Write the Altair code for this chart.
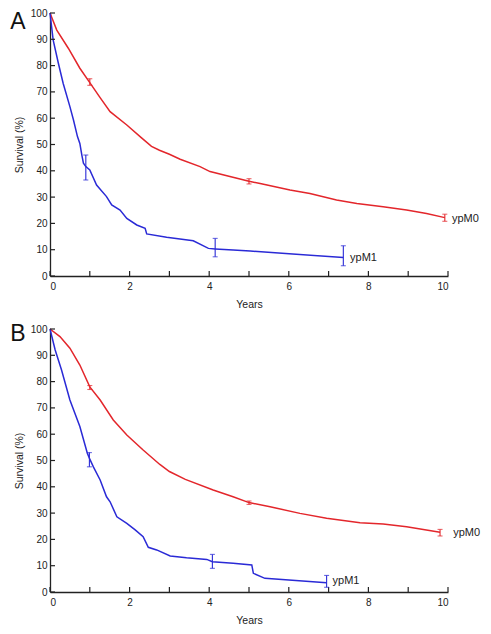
import altair as alt
import pandas as pd

FONT = "Liberation Sans"
RED = "#e3262b"
BLUE = "#2a2ad6"

# ---------------- data ----------------
# Panel A
a_m0_years = [0, 0.17, 0.46, 0.75, 1.0, 1.25, 1.51, 1.93, 2.3, 2.55, 2.75, 3.0, 3.27, 3.77, 4.02, 4.52, 5.0, 5.28, 6.03, 6.53, 7.2, 7.71, 8.37, 8.96, 9.46, 9.92]
a_m0_surv = [100, 93.5, 86.6, 79.0, 73.5, 68.0, 62.5, 57.4, 52.5, 49.3, 47.8, 46.3, 44.4, 41.6, 39.7, 37.8, 36.0, 35.2, 32.7, 31.4, 28.9, 27.6, 26.3, 25.1, 23.8, 22.2]
a_m1_years = [0, 0.08, 0.21, 0.33, 0.5, 0.59, 0.69, 0.75, 0.8, 0.84, 0.9, 1.0, 1.17, 1.42, 1.55, 1.76, 1.93, 2.18, 2.39, 2.43, 2.93, 3.6, 3.98, 4.15, 4.6, 5.03, 7.37]
a_m1_surv = [100, 89.7, 80.9, 73.3, 64.4, 59.3, 53.0, 50.4, 46.0, 42.9, 41.6, 40.3, 34.6, 30.2, 27.0, 25.1, 21.9, 19.4, 18.1, 16.0, 14.7, 13.4, 10.5, 10.3, 9.9, 9.5, 7.0]
a_err_series = ["ypM0", "ypM0", "ypM0", "ypM1", "ypM1", "ypM1"]
a_err_years = [1.0, 5.0, 9.92, 0.9, 4.15, 7.37]
a_err_low = [72.5, 35.0, 20.8, 36.5, 7.3, 3.9]
a_err_high = [75.0, 37.0, 23.5, 46.0, 14.3, 11.5]
a_lab_series = ["ypM0", "ypM1"]
a_lab_years = [10.1, 7.54]
a_lab_surv = [21.7, 6.8]

# Panel B
b_m0_years = [0, 0.25, 0.5, 0.75, 1.0, 1.26, 1.59, 1.93, 2.34, 2.76, 3.0, 3.4, 4.1, 4.6, 5.0, 5.53, 6.28, 6.95, 7.79, 8.37, 8.96, 9.8]
b_m0_surv = [100, 97.1, 92.7, 86.3, 78.0, 73.0, 65.4, 59.7, 54.0, 48.5, 45.8, 42.8, 38.8, 36.2, 34.0, 32.4, 29.9, 28.0, 26.3, 25.9, 24.8, 22.7]
b_m1_years = [0, 0.13, 0.29, 0.5, 0.75, 0.94, 1.0, 1.09, 1.26, 1.42, 1.51, 1.68, 1.93, 2.14, 2.34, 2.47, 2.68, 3.02, 3.43, 3.94, 4.08, 4.6, 5.07, 5.11, 5.4, 6.95]
b_m1_surv = [100, 92.0, 84.4, 73.0, 62.9, 52.7, 50.5, 47.6, 42.6, 36.2, 34.3, 28.6, 26.1, 23.6, 21.0, 17.0, 16.0, 13.7, 13.0, 12.4, 11.5, 10.9, 10.3, 7.1, 5.2, 3.5]
b_err_series = ["ypM0", "ypM0", "ypM0", "ypM1", "ypM1", "ypM1"]
b_err_years = [1.0, 5.0, 9.8, 0.99, 4.08, 6.95]
b_err_low = [77.0, 33.3, 21.3, 47.6, 9.0, 1.8]
b_err_high = [78.5, 34.6, 23.8, 53.0, 14.3, 6.3]
b_lab_series = ["ypM0", "ypM1"]
b_lab_years = [10.13, 7.1]
b_lab_surv = [22.4, 4.2]

x_major = [0, 2, 4, 6, 8, 10]
x_minor = [1, 3, 5, 7, 9]
y_ticks = [0, 10, 20, 30, 40, 50, 60, 70, 80, 90, 100]

W, H = 398, 263

color_scale = alt.Scale(domain=["ypM0", "ypM1"], range=[RED, BLUE])


def panel(letter, m0y, m0s, m1y, m1s, es, ey, el, eh, ls, lx, lyv, letter_y):
    curves = pd.DataFrame({
        "year": list(m0y) + list(m1y),
        "surv": list(m0s) + list(m1s),
        "series": ["ypM0"] * len(m0y) + ["ypM1"] * len(m1y),
        "order": list(range(len(m0y))) + list(range(len(m1y))),
    })
    errs = pd.DataFrame({"series": es, "year": ey, "lo": el, "hi": eh})
    labs = pd.DataFrame({"series": ls, "year": lx, "surv": lyv})
    xt = pd.DataFrame({"t": x_major + x_minor})
    yt = pd.DataFrame({"t": y_ticks})

    xs = alt.Scale(domain=[0, 10], nice=False, zero=False)
    ys = alt.Scale(domain=[0, 100], nice=False)

    xaxis = alt.Axis(values=x_major, title="Years", ticks=False, grid=False,
                     labelPadding=5, titlePadding=8, format="d", labelOverlap=False)
    yaxis = alt.Axis(values=y_ticks, title="Survival (%)", ticks=False, grid=False,
                     labelPadding=3, titlePadding=6, format="d", labelOverlap=False)

    def X(f):
        return alt.X(f, scale=xs, axis=xaxis)

    def Y(f):
        return alt.Y(f, scale=ys, axis=yaxis)

    col = alt.Color("series:N", scale=color_scale, legend=None)

    lines = alt.Chart(curves).mark_line(strokeWidth=1.5).encode(
        x=X("year:Q"), y=Y("surv:Q"), color=col, order="order:Q",
    )
    bars = alt.Chart(errs).mark_rule(strokeWidth=1.1).encode(
        x=X("year:Q"), y=Y("lo:Q"), y2="hi:Q", color=col,
    )
    cap_lo = alt.Chart(errs).mark_tick(orient="horizontal", size=5, thickness=1.1).encode(
        x=X("year:Q"), y=Y("lo:Q"), color=col,
    )
    cap_hi = alt.Chart(errs).mark_tick(orient="horizontal", size=5, thickness=1.1).encode(
        x=X("year:Q"), y=Y("hi:Q"), color=col,
    )
    labels = alt.Chart(labs).mark_text(align="left", baseline="middle", fontSize=11,
                                       font=FONT, color="#222").encode(
        x=X("year:Q"), y=Y("surv:Q"), text="series:N",
    )
    xticks = alt.Chart(xt).mark_rule(color="#222", strokeWidth=1.2).encode(
        x=X("t:Q"), y=alt.value(H), y2=alt.value(H - 5),
    )
    yticks = alt.Chart(yt).mark_rule(color="#222", strokeWidth=1.2).encode(
        y=Y("t:Q"), x=alt.value(0), x2=alt.value(5),
    )
    letter_mark = alt.Chart(pd.DataFrame({"l": [letter]})).mark_text(
        fontSize=23, font=FONT, color="#111", align="center", baseline="alphabetic"
    ).encode(text="l:N", x=alt.value(-32), y=alt.value(letter_y))

    return alt.layer(lines, xticks, yticks, bars, cap_lo, cap_hi, labels, letter_mark).properties(
        width=W, height=H
    )


pa = panel("A", a_m0_years, a_m0_surv, a_m1_years, a_m1_surv,
           a_err_series, a_err_years, a_err_low, a_err_high,
           a_lab_series, a_lab_years, a_lab_surv, 16)
pb = panel("B", b_m0_years, b_m0_surv, b_m1_years, b_m1_surv,
           b_err_series, b_err_years, b_err_low, b_err_high,
           b_lab_series, b_lab_years, b_lab_surv, 12)

chart = alt.vconcat(pa, pb, spacing=53, bounds="flush").properties(
    padding={"left": 2, "top": 0, "right": 2, "bottom": 2}
).configure_view(stroke=None).configure_axis(
    domainColor="#222", domainWidth=1.3, labelColor="#222", titleColor="#222",
    labelFont=FONT, titleFont=FONT, labelFontSize=10, titleFontSize=10.5,
    titleFontWeight="normal",
)

chart.save("out.html", embed_options={"renderer": "svg", "actions": False})
